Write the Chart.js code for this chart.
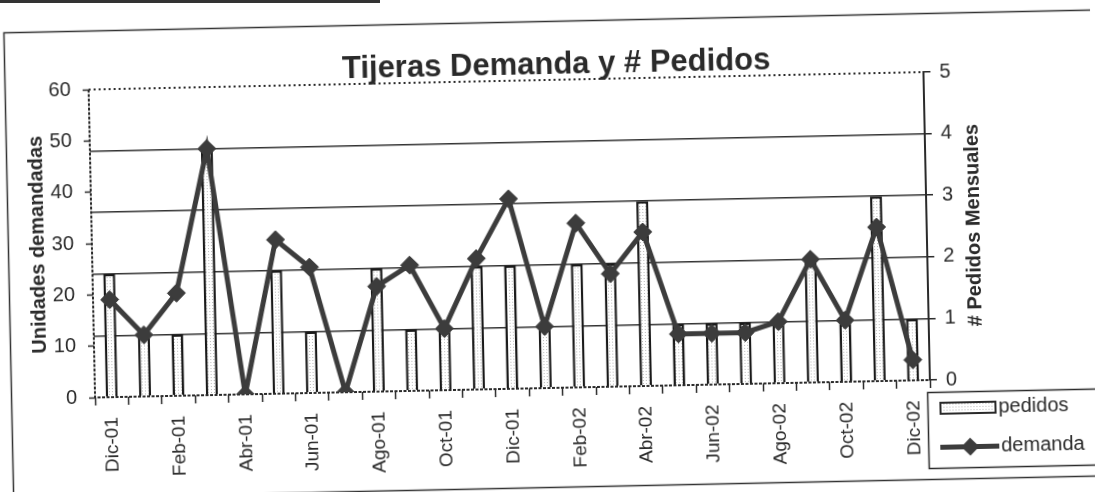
<!DOCTYPE html>
<html>
<head>
<meta charset="utf-8">
<script src="https://cdn.jsdelivr.net/npm/chart.js@4.4.0/dist/chart.umd.min.js"></script>
<style>
html, body { margin: 0; padding: 0; background: #fff; overflow: hidden; }
#wrap { position: relative; width: 1095px; height: 492px; transform: rotate(-1.2deg); transform-origin: 50% 50%; }
#scrap { position: absolute; left: 0; top: 0; width: 380px; height: 3px; background: #333; }
</style>
</head>
<body>
<div id="scrap"></div>
<div id="wrap"><canvas id="myChart" width="1095" height="492"></canvas></div>
<script>
// meses (solo se muestra uno de cada dos en el eje)
const months = ['Dic-01', 'Ene-01', 'Feb-01', 'Mar-01', 'Abr-01', 'May-01', 'Jun-01', 'Jul-01',
    'Ago-01', 'Sep-01', 'Oct-01', 'Nov-01', 'Dic-01', 'Ene-02', 'Feb-02', 'Mar-02', 'Abr-02',
    'May-02', 'Jun-02', 'Jul-02', 'Ago-02', 'Sep-02', 'Oct-02', 'Nov-02', 'Dic-02'];
// # pedidos mensuales (eje derecho)
const pedidos = [2, 1, 1, 4, 0, 2, 1, 0, 2, 1, 1, 2, 2, 1, 2, 2, 3, 1, 1, 1, 1, 2, 1, 3, 1];
// unidades demandadas (eje izquierdo)
const demanda = [19, 12, 20, 48, 0, 30, 24.5, 0, 20.5, 24.5, 12, 25.5, 37, 12, 32, 22, 30, 10, 10, 10, 12, 24, 12, 30, 4];

const FONT = "'Liberation Sans', Arial, sans-serif";
const INK = '#2a2a2a';
const LINE = '#3c3c3c';

Chart.defaults.font.family = FONT;
Chart.defaults.color = INK;

const canvas = document.getElementById('myChart');
const ctx0 = canvas.getContext('2d');

// relleno punteado de las barras
function dotFill() {
    const c = document.createElement('canvas');
    c.width = 3; c.height = 3;
    const g = c.getContext('2d');
    g.fillStyle = '#fff';
    g.fillRect(0, 0, 3, 3);
    g.fillStyle = '#b8b8b8';
    g.fillRect(1, 1, 1, 1);
    return ctx0.createPattern(c, 'repeat');
}
const barFill = dotFill();

function diamond(ctx, x, y, r) {
    ctx.beginPath();
    ctx.moveTo(x - r, y);
    ctx.lineTo(x, y - r);
    ctx.lineTo(x + r, y);
    ctx.lineTo(x, y + r);
    ctx.closePath();
    ctx.fill();
}

const decor = {
    id: 'decor',
    beforeDraw(chart) {
        const ctx = chart.ctx;
        ctx.save();
        ctx.fillStyle = '#fff';
        ctx.fillRect(0, 0, chart.width, chart.height);
        ctx.strokeStyle = '#333';
        ctx.lineWidth = 1.5;
        ctx.strokeRect(8.5, 21.5, 1100, 466);
        ctx.restore();
    },
    beforeDatasetsDraw(chart) {
        const {ctx, chartArea: a} = chart;
        ctx.save();
        ctx.strokeStyle = INK;
        // borde superior punteado
        ctx.lineWidth = 2;
        ctx.setLineDash([2, 3]);
        ctx.beginPath();
        ctx.moveTo(a.left, a.top);
        ctx.lineTo(a.right, a.top);
        ctx.stroke();
        // ejes izquierdo e inferior
        ctx.setLineDash([3, 1.5]);
        ctx.beginPath();
        ctx.moveTo(a.left, a.top);
        ctx.lineTo(a.left, a.bottom);
        ctx.lineTo(a.right, a.bottom);
        ctx.stroke();
        ctx.restore();
    },
    afterDraw(chart) {
        const {ctx, chartArea: a} = chart;
        ctx.save();
        ctx.fillStyle = INK;
        // titulo
        ctx.font = `bold 31px ${FONT}`;
        ctx.textAlign = 'center';
        ctx.textBaseline = 'alphabetic';
        ctx.fillText('Tijeras Demanda y # Pedidos', 560, 74);
        // titulo eje derecho
        ctx.save();
        ctx.translate(974, (a.top + a.bottom) / 2);
        ctx.rotate(-Math.PI / 2);
        ctx.font = `bold 20px ${FONT}`;
        ctx.textBaseline = 'middle';
        ctx.fillText('# Pedidos Mensuales', 0, 0);
        ctx.restore();
        // leyenda
        ctx.strokeStyle = INK;
        ctx.lineWidth = 1.5;
        ctx.strokeRect(924.5, 400.5, 169, 76);
        ctx.fillStyle = barFill;
        ctx.fillRect(937, 411, 55, 11);
        ctx.lineWidth = 2;
        ctx.strokeRect(937, 411, 55, 11);
        ctx.strokeStyle = LINE;
        ctx.lineWidth = 5;
        ctx.beginPath();
        ctx.moveTo(936, 455.5);
        ctx.lineTo(995, 455.5);
        ctx.stroke();
        ctx.fillStyle = LINE;
        diamond(ctx, 966, 455.5, 9);
        ctx.fillStyle = INK;
        ctx.font = `20px ${FONT}`;
        ctx.textAlign = 'left';
        ctx.textBaseline = 'middle';
        ctx.fillText('pedidos', 995, 416.5);
        ctx.fillText('demanda', 997, 455.5);
        ctx.restore();
    }
};

new Chart(canvas, {
    data: {
        labels: months,
        datasets: [
            {
                type: 'line', label: 'demanda', data: demanda, yAxisID: 'y', order: 0,
                borderColor: LINE, borderWidth: 5, tension: 0,
                pointStyle: 'rectRot', pointRadius: 9, pointBackgroundColor: LINE,
                pointBorderColor: LINE, pointBorderWidth: 1
            },
            {
                type: 'bar', label: 'pedidos', data: pedidos, yAxisID: 'y1', order: 1,
                backgroundColor: barFill, borderColor: '#1a1a1a',
                borderWidth: {left: 2.5, right: 2.5, top: 2.5, bottom: 0},
                barPercentage: 0.36, categoryPercentage: 1.0
            }
        ]
    },
    options: {
        responsive: false,
        animation: false,
        layout: { padding: { left: 22, right: 88, top: 80, bottom: 0 } },
        plugins: {
            legend: { display: false },
            title: { display: false },
            tooltip: { enabled: false }
        },
        scales: {
            x: {
                type: 'category',
                offset: true,
                grid: { offset: true, drawOnChartArea: false, tickLength: 8, tickColor: INK, tickWidth: 1.5 },
                border: { display: false },
                ticks: {
                    autoSkip: false, maxRotation: 90, minRotation: 90, padding: 12,
                    font: { size: 19 }, color: INK,
                    callback: (v, i) => i % 2 === 0 ? months[i] : ''
                },
                afterFit: s => { s.height = 104; }
            },
            y: {
                position: 'left', min: 0, max: 60,
                ticks: { stepSize: 10, padding: 12, font: { size: 20 }, color: INK },
                grid: { drawOnChartArea: false, tickLength: 6, tickColor: INK, tickWidth: 1.5 },
                border: { display: false },
                title: {
                    display: true, text: 'Unidades demandadas', color: INK,
                    font: { size: 20, weight: 'bold' }, padding: { top: 4, bottom: 0 }
                },
                afterFit: s => { s.width = 70; }
            },
            y1: {
                position: 'right', min: 0, max: 5,
                ticks: { stepSize: 1, padding: 9, font: { size: 20 }, color: INK },
                grid: {
                    drawOnChartArea: true,
                    color: c => (c.tick && c.tick.value > 0 && c.tick.value < 5) ? '#333' : 'rgba(0,0,0,0)',
                    lineWidth: 1.5, tickLength: 7, tickColor: INK, tickWidth: 1.5
                },
                border: { display: true, color: INK, width: 2 },
                afterFit: s => { s.width = 80; }
            }
        }
    },
    plugins: [decor]
});
</script>
</body>
</html>
